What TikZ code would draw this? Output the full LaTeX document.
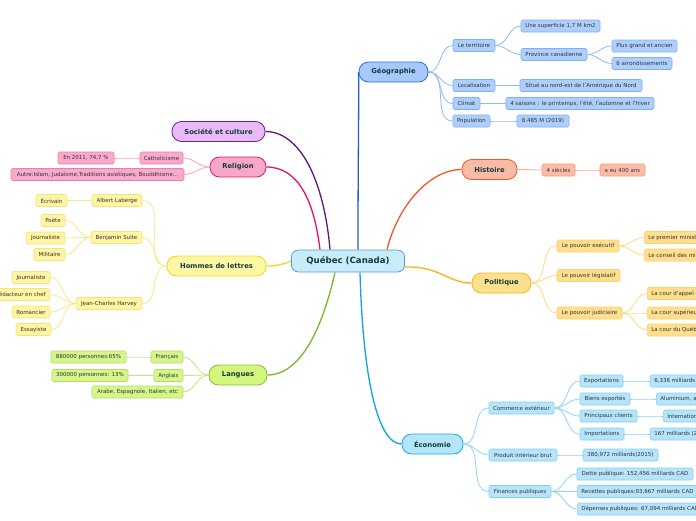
\documentclass[tikz,border=0pt]{standalone}
\usepackage{fontspec}
\setmainfont{DejaVu Sans}
\usetikzlibrary{backgrounds}
\definecolor{txt}{HTML}{333333}
\definecolor{ttxt}{HTML}{143C3A}
\definecolor{cenF}{HTML}{C9ECFB}\definecolor{cenB}{HTML}{4E9ED6}
\definecolor{geoF}{HTML}{A6C8FD}\definecolor{geoB}{HTML}{2A6FE0}\definecolor{geoLF}{HTML}{AECFFD}\definecolor{geoLB}{HTML}{7EB0F5}\definecolor{geoC}{HTML}{8DB9F6}\definecolor{geoM}{HTML}{1F5FC8}
\definecolor{socF}{HTML}{E9B9F8}\definecolor{socB}{HTML}{6B2390}\definecolor{socM}{HTML}{5B1878}
\definecolor{relF}{HTML}{F8A7CB}\definecolor{relB}{HTML}{E4186E}\definecolor{relLF}{HTML}{F9AACC}\definecolor{relLB}{HTML}{F27AAB}\definecolor{relC}{HTML}{F6A0C3}\definecolor{relM}{HTML}{E8106A}
\definecolor{hisF}{HTML}{FABBA6}\definecolor{hisB}{HTML}{F2572A}\definecolor{hisLF}{HTML}{FBBDA9}\definecolor{hisLB}{HTML}{F7967A}\definecolor{hisC}{HTML}{F8A68F}\definecolor{hisM}{HTML}{F2572A}
\definecolor{polF}{HTML}{FEDF8C}\definecolor{polB}{HTML}{FBB423}\definecolor{polLF}{HTML}{FFDE8E}\definecolor{polLB}{HTML}{FDD06A}\definecolor{polC}{HTML}{FDD97F}\definecolor{polM}{HTML}{FBAF14}
\definecolor{homF}{HTML}{FFF7A6}\definecolor{homB}{HTML}{EDD817}\definecolor{homLF}{HTML}{FFF5A3}\definecolor{homLB}{HTML}{F3E37A}\definecolor{homC}{HTML}{F5E88E}\definecolor{homM}{HTML}{EFD915}
\definecolor{lanF}{HTML}{D3F67C}\definecolor{lanB}{HTML}{86BE3A}\definecolor{lanLF}{HTML}{D5F68A}\definecolor{lanLB}{HTML}{B3DC63}\definecolor{lanC}{HTML}{C1E47F}\definecolor{lanM}{HTML}{7EB62A}
\definecolor{ecoF}{HTML}{B3E6FB}\definecolor{ecoB}{HTML}{1EA7E6}\definecolor{ecoLF}{HTML}{B5E4FB}\definecolor{ecoLB}{HTML}{85CFF2}\definecolor{ecoC}{HTML}{8DD3F4}\definecolor{ecoM}{HTML}{12A1E2}
\tikzset{
  leaf/.style={draw, rounded corners=1.5pt, minimum height=12pt, inner xsep=2pt, inner ysep=0pt, font=\fontsize{5.5}{6}\selectfont, text=txt, line width=0.6pt},
  topic/.style={draw, rounded corners=9.5pt, minimum height=20pt, inner xsep=4pt, inner ysep=0pt, font=\bfseries\fontsize{6.8}{8}\selectfont, text=ttxt, line width=0.8pt},
  W/.style={minimum width=#1},
  geoL/.style={leaf, fill=geoLF, draw=geoLB},
  relL/.style={leaf, fill=relLF, draw=relLB},
  hisL/.style={leaf, fill=hisLF, draw=hisLB},
  polL/.style={leaf, fill=polLF, draw=polLB},
  homL/.style={leaf, fill=homLF, draw=homLB},
  lanL/.style={leaf, fill=lanLF, draw=lanLB},
  ecoL/.style={leaf, fill=ecoLF, draw=ecoLB},
  mainline/.style={line width=1.3pt},
  subline/.style={line width=0.8pt},
}
\begin{document}
\begin{tikzpicture}[x=1pt,y=-1pt]
\useasboundingbox (0,0) rectangle (696,520);
\clip (0,0) rectangle (696,520);
% center
\node[draw=cenB, fill=cenF, rounded corners=7pt, minimum width=113pt, minimum height=22pt, line width=0.8pt, font=\bfseries\fontsize{8.6}{10}\selectfont, text=ttxt] (c) at (348,261) {Québec (Canada)};
% topics
\node[topic, fill=geoF, draw=geoB, W=69] (geo) at (393.5,72) {Géographie};
\node[topic, fill=socF, draw=socB, W=93] (soc) at (218.5,131.5) {Société et culture};
\node[topic, fill=relF, draw=relB, W=56] (rel) at (238,167) {Religion};
\node[topic, fill=hisF, draw=hisB, W=55] (hist) at (489.5,169.5) {Histoire};
\node[topic, fill=polF, draw=polB, W=59] (pol) at (501.5,283) {Politique};
\node[topic, fill=homF, draw=homB, W=99] (hom) at (216.5,266) {Hommes de lettres};
\node[topic, fill=lanF, draw=lanB, W=58] (lan) at (238,375) {Langues};
\node[topic, fill=ecoF, draw=ecoB, W=61] (eco) at (432.5,444) {Économie};
% Geographie
\node[geoL, W=42] (terr) at (474,45.5) {Le territoire};
\node[geoL, W=79] (sup) at (560.5,26) {Une superficie 1,7 M km2};
\node[geoL, W=66] (prov) at (554,54.5) {Province canadienne};
\node[geoL, W=65] (plus) at (644.5,46) {Plus grand et ancien};
\node[geoL, W=60] (arr) at (642,63.5) {6 arrondissements};
\node[geoL, W=42] (loc) at (474,85.5) {Localisation};
\node[geoL, W=122] (situ) at (581,85.5) {Situé au nord-est de l'Amérique du Nord};
\node[geoL, W=27] (clim) at (466.5,103.5) {Climat};
\node[geoL, W=148] (sais) at (580,103.5) {4 saisons : le printemps, l'été, l'automne et l'hiver};
\node[geoL, W=37] (pop) at (471.5,121) {Population};
\node[geoL, W=52] (popv) at (543,121) {8.485 M (2019)};
% Religion
\node[relL, W=43] (cath) at (161.5,158) {Catholicisme};
\node[relL, W=56] (cathv) at (86,158) {En 2011, 74,7 \%};
\node[relL, W=173] (autre) at (97.5,174.5) {Autre:Islam, Judaïsme,Traditions asiatiques, Bouddhisme...};
% Histoire
\node[hisL, W=33] (siec) at (558.5,170) {4 siècles};
\node[hisL, W=45] (ans) at (622.5,170) {a eu 400 ans};
% Politique
\node[polL, W=62] (exe) at (588,246) {Le pouvoir exécutif};
\node[polL, anchor=west, inner xsep=4pt] (pm) at (644,237.5) {Le premier ministre};
\node[polL, anchor=west, inner xsep=4pt] (cons) at (644,255) {Le conseil des ministres};
\node[polL, W=63] (leg) at (588.5,275.5) {Le pouvoir législatif};
\node[polL, W=65] (jud) at (589.5,313) {Le pouvoir judiciaire};
\node[polL, anchor=west, inner xsep=4pt] (appel) at (647,293.5) {La cour d'appel du Québec};
\node[polL, anchor=west, inner xsep=4pt] (csup) at (647,313) {La cour supérieure};
\node[polL, anchor=west, inner xsep=4pt] (cqc) at (647,330) {La cour du Québec};
% Hommes de lettres
\node[homL, W=50] (alb) at (117,200.5) {Albert Laberge};
\node[homL, W=31] (ecr) at (51.5,200.5) {Écrivain};
\node[homL, W=51] (ben) at (116.5,237.5) {Benjamin Sulte};
\node[homL, W=24] (poe) at (53,220.5) {Poète};
\node[homL, W=39] (jou1) at (45.5,238) {Journaliste};
\node[homL, W=31] (mil) at (49.5,254.5) {Militaire};
\node[homL, W=66] (jch) at (109,303.5) {Jean-Charles Harvey};
\node[homL, W=38] (jou2) at (31,277.5) {Journaliste};
\node[homL, anchor=east, inner xsep=4pt] (red) at (50,294.5) {Rédacteur en chef};
\node[homL, W=38] (rom) at (31,312) {Romancier};
\node[homL, W=35] (ess) at (33.5,329.5) {Essayiste};
% Langues
\node[lanL, W=32] (fr) at (167,357) {Français};
\node[lanL, W=75] (frv) at (88.5,357) {880000 personnes:65\%};
\node[lanL, W=29] (en) at (168.5,375.5) {Anglais};
\node[lanL, W=76] (env) at (90,375.5) {300000 personnes: 13\%};
\node[lanL, W=91] (autres) at (137.5,392) {Arabe, Espagnole, Italien, etc};
% Economie
\node[ecoL, W=65] (com) at (521.5,408) {Commerce extérieur};
\node[ecoL, W=43] (exp) at (601.5,381) {Exportations};
\node[ecoL, anchor=west, inner xsep=4pt] (expv) at (650,381) {6,336 milliards CAD};
\node[ecoL, W=50] (bie) at (605,399) {Biens exportés};
\node[ecoL, anchor=west, inner xsep=4pt] (biev) at (656,399) {Aluminium, avions};
\node[ecoL, W=57] (cli) at (608.5,416) {Principaux clients};
\node[ecoL, anchor=west, inner xsep=4pt] (cliv) at (663,416) {International};
\node[ecoL, W=44] (imp) at (602,434) {Importations};
\node[ecoL, anchor=west, inner xsep=4pt] (impv) at (650,434) {167 milliards (2019)};
\node[ecoL, W=68] (pib) at (523,455) {Produit intérieur brut};
\node[ecoL, W=75] (pibv) at (620.5,455) {380,972 milliards(2015)};
\node[ecoL, W=62] (fin) at (520,491.5) {Finances publiques};
\node[ecoL, W=116] (det) at (635,474) {Dette publique: 152,456 milliards CAD};
\node[ecoL, anchor=west, inner xsep=4pt] (rec) at (577,491.5) {Recettes publiques:93,667 milliards CAD};
\node[ecoL, anchor=west, inner xsep=4pt] (dep) at (577,509) {Dépenses publiques: 67,094 milliards CAD};

\begin{scope}[on background layer]
% main connectors
\draw[mainline, geoM] ([xshift=10pt]c.north) .. controls (358,160) and (359,110) .. (geo.west);
\draw[mainline, socM] ([xshift=-18pt]c.north) .. controls (324,180) and (300,131.5) .. (soc.east);
\draw[mainline, relM] ([xshift=-28pt]c.north) .. controls (314,200) and (298,167) .. (rel.east);
\draw[mainline, hisM] ([xshift=39pt]c.north) .. controls (398,205) and (430,169.5) .. (hist.west);
\draw[mainline, polM] ([yshift=-6pt]c.east) .. controls (440,266) and (448,283) .. (pol.west);
\draw[mainline, homM] (c.west) .. controls (282,265) and (275,266) .. (hom.east);
\draw[mainline, lanM] ([xshift=-13pt]c.south) .. controls (322,330) and (300,375) .. (lan.east);
\draw[mainline, ecoM] ([xshift=12pt]c.south) .. controls (363,380) and (378,444) .. (eco.west);
% sub connectors, right side
\foreach \a/\b in {geo/terr,geo/loc,geo/clim,geo/pop,terr/sup,terr/prov,prov/plus,prov/arr,loc/situ,clim/sais,pop/popv}
  \draw[subline, geoC] (\a.east) to[out=0,in=180] (\b.west);
\foreach \a/\b in {hist/siec,siec/ans}
  \draw[subline, hisC] (\a.east) to[out=0,in=180] (\b.west);
\foreach \a/\b in {pol/exe,pol/leg,pol/jud,exe/pm,exe/cons,jud/appel,jud/csup,jud/cqc}
  \draw[subline, polC] (\a.east) to[out=0,in=180] (\b.west);
\foreach \a/\b in {eco/com,eco/pib,eco/fin,com/exp,com/bie,com/cli,com/imp,exp/expv,bie/biev,cli/cliv,imp/impv,pib/pibv,fin/det,fin/rec,fin/dep}
  \draw[subline, ecoC] (\a.east) to[out=0,in=180] (\b.west);
% sub connectors, left side
\foreach \a/\b in {rel/cath,rel/autre,cath/cathv}
  \draw[subline, relC] (\a.west) to[out=180,in=0] (\b.east);
\foreach \a/\b in {hom/alb,hom/ben,hom/jch,alb/ecr,ben/poe,ben/jou1,ben/mil,jch/jou2,jch/red,jch/rom,jch/ess}
  \draw[subline, homC] (\a.west) to[out=180,in=0] (\b.east);
\foreach \a/\b in {lan/fr,lan/en,lan/autres,fr/frv,en/env}
  \draw[subline, lanC] (\a.west) to[out=180,in=0] (\b.east);
\end{scope}
\end{tikzpicture}
\end{document}
